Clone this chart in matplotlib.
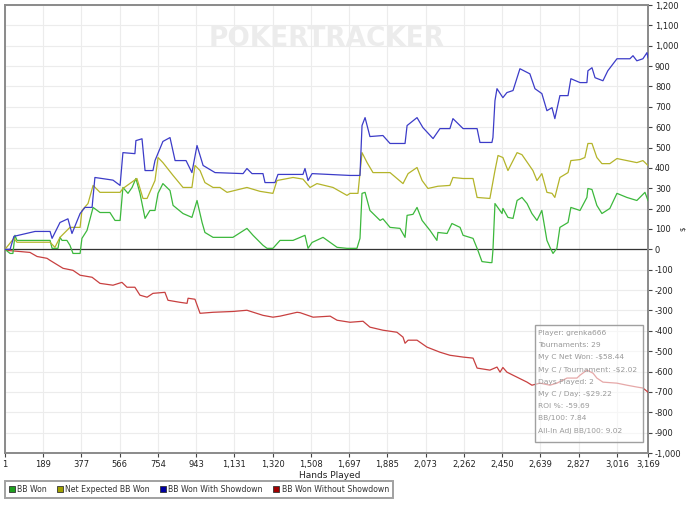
import matplotlib
matplotlib.use("Agg")
import matplotlib.pyplot as plt
import matplotlib.ticker as mticker
from matplotlib.lines import Line2D

# BB Won (green)
won_hands = [1, 26, 40, 50, 60, 223, 233, 262, 272, 282, 306, 321, 336, 371, 380, 405, 435,
             469, 518, 543, 568, 582, 607, 627, 646, 666, 691, 715, 740, 755, 779, 814, 829,
             878, 922, 947, 972, 986, 1026, 1124, 1193, 1223, 1272, 1292, 1321, 1356, 1420,
             1479, 1494, 1514, 1568, 1637, 1686, 1701, 1735, 1750, 1760, 1775, 1799, 1849,
             1863, 1898, 1947, 1972, 1982, 2011, 2031, 2056, 2095, 2129, 2134, 2179, 2203,
             2243, 2258, 2307, 2331, 2351, 2390, 2400, 2405, 2415, 2450, 2454, 2479, 2504,
             2524, 2548, 2573, 2597, 2622, 2646, 2671, 2686, 2701, 2720, 2735, 2775, 2789,
             2834, 2868, 2873, 2893, 2917, 2942, 2981, 3016, 3065, 3114, 3154, 3169]
won_vals = [0, -20, -20, 69, 44, 44, 5, 5, 59, 44, 44, 20, -20, -20, 54, 93, 206,
            181, 181, 142, 142, 304, 275, 304, 348, 275, 152, 191, 191, 275, 323, 289, 216,
            176, 157, 240, 132, 83, 59, 59, 103, 69, 20, 5, 5, 44, 44,
            69, 5, 34, 59, 10, 5, 5, 5, 54, 275, 280, 191, 142,
            150, 108, 103, 59, 167, 172, 206, 142, 93, 44, 83, 78, 127,
            108, 69, 54, -5, -60, -65, -65, -5, 225, 176, 201, 157, 152,
            240, 255, 225, 176, 142, 191, 44, 10, -20, 5, 108, 132, 206,
            191, 255, 299, 294, 216, 176, 201, 275, 255, 240, 280, 240]

# Net Expected BB Won (olive)
exp_hands = [1, 45, 60, 223, 247, 272, 306, 321, 371, 380, 410, 435, 469, 568, 582, 651,
             681, 701, 740, 755, 779, 829, 878, 922, 937, 962, 986, 1026, 1060, 1095, 1193,
             1257, 1321, 1341, 1420, 1469, 1504, 1538, 1617, 1686, 1701, 1740, 1760, 1785,
             1814, 1863, 1898, 1962, 1987, 2031, 2056, 2085, 2134, 2193, 2208, 2258, 2307,
             2327, 2390, 2415, 2430, 2454, 2479, 2524, 2548, 2602, 2622, 2646, 2671, 2696,
             2710, 2735, 2775, 2789, 2834, 2858, 2873, 2893, 2917, 2942, 2981, 3016, 3065,
             3114, 3144, 3169]
exp_vals = [0, 54, 35, 35, 10, 59, 93, 108, 108, 191, 225, 314, 280, 280, 299, 348,
            250, 250, 338, 451, 426, 363, 304, 304, 412, 387, 328, 304, 304, 280, 304,
            285, 275, 338, 353, 345, 304, 323, 304, 265, 275, 275, 475, 426,
            377, 377, 377, 323, 372, 402, 338, 299, 310, 314, 353, 348, 348,
            255, 250, 387, 461, 451, 387, 475, 465, 387, 338, 372, 280, 275,
            255, 353, 377, 436, 441, 451, 520, 520, 451, 421, 421, 446, 436,
            426, 436, 412]

# BB Won With Showdown (blue)
sd_hands = [1, 26, 45, 149, 223, 233, 272, 311, 331, 371, 395, 430, 444, 533, 568, 582,
            641, 646, 676, 691, 730, 740, 779, 814, 839, 893, 922, 947, 977, 1036, 1174,
            1193, 1218, 1272, 1282, 1331, 1346, 1469, 1479, 1494, 1514, 1701, 1750, 1760,
            1775, 1799, 1863, 1898, 1972, 1982, 2031, 2060, 2110, 2144, 2193, 2208, 2258,
            2327, 2341, 2400, 2405, 2415, 2425, 2454, 2474, 2504, 2524, 2538, 2587, 2612,
            2646, 2671, 2696, 2710, 2735, 2775, 2789, 2834, 2868, 2873, 2893, 2908, 2947,
            2971, 3016, 3080, 3095, 3114, 3144, 3164, 3169]
sd_vals = [0, 0, 64, 88, 88, 54, 132, 150, 78, 176, 206, 206, 353, 340, 314, 475,
           470, 534, 543, 387, 387, 436, 530, 549, 436, 436, 377, 510, 412, 377, 372,
           397, 372, 372, 328, 328, 368, 368, 397, 338, 372, 363, 363, 608,
           647, 554, 559, 520, 520, 608, 647, 598, 544, 593, 593, 642, 593,
           593, 525, 525, 549, 730, 789, 745, 770, 780, 843, 887, 862, 789,
           765, 681, 696, 642, 755, 755, 838, 819, 819, 877, 892, 843, 828,
           877, 936, 936, 951, 926, 936, 966, 941]

# BB Won Without Showdown (red)
nsd_hands = [1, 11, 124, 159, 208, 223, 287, 336, 371, 430, 469, 533, 577, 602, 641, 666,
             701, 730, 789, 804, 863, 898, 903, 937, 962, 1026, 1124, 1193, 1272, 1321,
             1356, 1440, 1455, 1519, 1603, 1637, 1701, 1765, 1799, 1863, 1932, 1962, 1972,
             1987, 2031, 2080, 2144, 2193, 2258, 2307, 2327, 2390, 2425, 2440, 2454, 2474,
             2504, 2573, 2597, 2637, 2686, 2720, 2770, 2819, 2834, 2868, 2898, 2917, 2947,
             3016, 3065, 3114, 3144, 3169]
nsd_vals = [0, -5, -15, -35, -44, -54, -93, -103, -127, -137, -167, -176, -162, -186,
            -186, -225, -235, -216, -211, -250, -260, -265, -240, -245, -314, -309, -305,
            -299, -324, -333, -328, -309, -311, -333, -328, -348, -358, -353, -382, -397,
            -407, -431, -461, -446, -446, -480, -505, -520, -529, -534, -583, -593, -578,
            -603, -580, -603, -618, -652, -667, -657, -667, -657, -632, -632, -618, -593,
            -608, -632, -652, -657, -667, -676, -681, -701]

x_ticks = [1, 189, 377, 566, 754, 943, 1131, 1320, 1508, 1697, 1885, 2073, 2262, 2450,
           2639, 2827, 3016, 3169]

series_labels = ["BB Won", "Net Expected BB Won", "BB Won With Showdown",
                 "BB Won Without Showdown"]
line_colors = ["#3cb83c", "#b4b42a", "#3c3cc8", "#c84040"]
marker_colors = ["#1f9f1f", "#a0a000", "#0000a0", "#a00000"]

stats_lines = [
    "Player: grenka666",
    "Tournaments: 29",
    "My C Net Won: -\\$58.44",
    "My C / Tournament: -\\$2.02",
    "Days Played: 2",
    "My C / Day: -\\$29.22",
    "ROI %: -59.69",
    "BB/100: 7.84",
    "All-In Adj BB/100: 9.02",
]

plt.rcParams["font.family"] = ["DejaVu Sans"]

fig = plt.figure(figsize=(7.0, 5.05), dpi=100)
ax = fig.add_axes([5 / 700, 52 / 505, 643 / 700, 448 / 505])

ax.set_xlim(1, 3169)
ax.set_ylim(-1000, 1200)
ax.set_xticks(x_ticks)
ax.xaxis.set_major_formatter(mticker.FuncFormatter(lambda v, p: f"{int(v):,}"))
ax.set_yticks(range(-1000, 1201, 100))
ax.yaxis.set_major_formatter(mticker.FuncFormatter(lambda v, p: f"{int(v):,}"))
ax.yaxis.tick_right()
ax.tick_params(axis="both", labelsize=6, colors="#444444", length=3, width=0.8,
               labelcolor="#222222", pad=2)
ax.grid(True, color="#ececec", linewidth=0.8)
ax.set_axisbelow(True)
for side in ["left", "right", "bottom", "top"]:
    ax.spines[side].set_color("#8a8a8a")
    ax.spines[side].set_linewidth(1.4)

ax.axhline(0, color="#333333", linewidth=0.9, zorder=2)

ax.text(0.5, 0.925, "POKERTRACKER", transform=ax.transAxes, ha="center", va="center",
        fontsize=19, fontweight="bold", color="#ececec", zorder=1)

ax.plot(nsd_hands, nsd_vals, color=line_colors[3], linewidth=0.9, zorder=3)
ax.plot(won_hands, won_vals, color=line_colors[0], linewidth=0.9, zorder=3)
ax.plot(exp_hands, exp_vals, color=line_colors[1], linewidth=0.9, zorder=3)
ax.plot(sd_hands, sd_vals, color=line_colors[2], linewidth=0.9, zorder=3)

ax.set_xlabel("Hands Played", fontsize=6.5, color="#222222")
ax.xaxis.set_label_coords(0.505, -0.041)
fig.text(683 / 700, 1 - 229 / 505, "$", fontsize=5, color="#222222", rotation=90,
         ha="center", va="center")

# stats overlay
box_x0, box_y0 = 535 / 700, 1 - 442 / 505
box = plt.Rectangle((box_x0, box_y0), 108 / 700, 117 / 505, transform=fig.transFigure,
                    facecolor="white", alpha=0.55, edgecolor="none", zorder=5)
fig.patches.append(box)
edge = plt.Rectangle((box_x0, box_y0), 108 / 700, 117 / 505, transform=fig.transFigure,
                     facecolor="none", edgecolor="#a0a0a0", linewidth=1.0, zorder=6)
fig.patches.append(edge)
for i, line in enumerate(stats_lines):
    fig.text(538 / 700, 1 - (333 + i * 12.2) / 505, line, fontsize=5.4, color="#999999",
             ha="left", va="center", zorder=7)

handles = [Line2D([], [], linestyle="none", marker="s", markersize=4.5,
                  markerfacecolor=c, markeredgecolor="#333333", markeredgewidth=0.6)
           for c in marker_colors]
leg = fig.legend(handles, series_labels, loc="lower left",
                 bbox_to_anchor=(5 / 700, 7 / 505), ncol=4, fontsize=5.6,
                 frameon=True, fancybox=False, handlelength=0.7, handletextpad=0.3,
                 columnspacing=1.4, borderpad=0.5, borderaxespad=0)
leg.get_frame().set_edgecolor("#8a8a8a")
leg.get_frame().set_linewidth(1.4)
for t in leg.get_texts():
    t.set_color("#333333")

fig.savefig("out.png", dpi=100)
